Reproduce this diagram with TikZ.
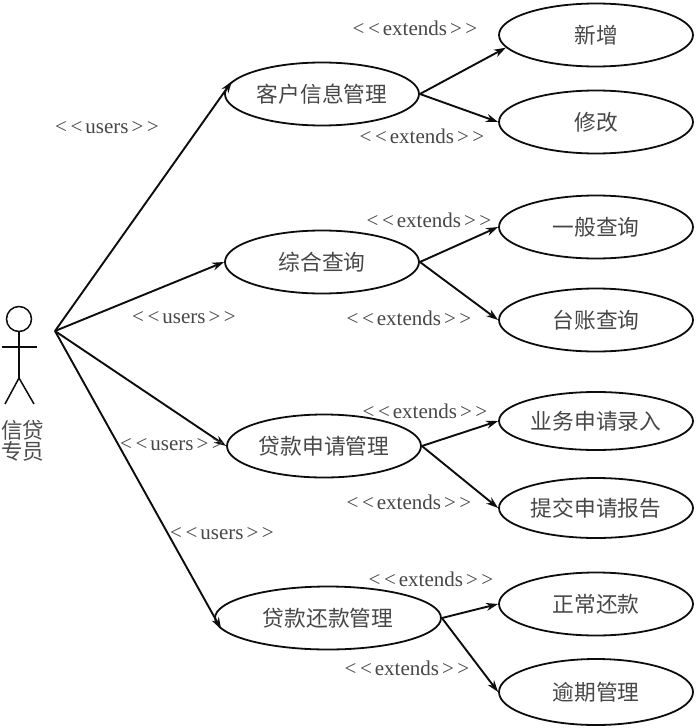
\documentclass[tikz,border=0pt]{standalone}
\usepackage{fontspec}
\setmainfont{Liberation Serif}
\newfontfamily\cjk{Noto Sans CJK SC}[Scale=1]
\usetikzlibrary{shapes.geometric,arrows.meta}
\definecolor{ink}{gray}{0.05}
\definecolor{lab}{gray}{0.28}
\newcommand{\usr}{<\kern3.5pt<\kern3pt users\kern3pt>\kern3.5pt>}
\newcommand{\ext}{<\kern3.5pt<\kern3pt extends\kern3pt>\kern3.5pt>}
\tikzset{
  uc/.style={draw=ink,ellipse,line width=1.8pt,minimum width=194pt,minimum height=63pt,inner sep=0pt,font=\cjk\fontsize{21.7}{24}\selectfont,text=black!72},
  link/.style={draw=ink,line width=1.9pt,-{Stealth[length=12pt,width=8pt]}},
  tag/.style={font=\fontsize{21}{23}\selectfont,text=lab,inner sep=0pt},
  limb/.style={draw=ink,line width=1.5pt}
}
\begin{document}
\begin{tikzpicture}[x=1pt,y=-1pt]
\useasboundingbox[fill=white] (0,0) rectangle (698,728);
% use cases
\node[uc] (kh) at (322,94) {客户信息管理};
\node[uc] (zh) at (322,262) {综合查询};
\node[uc] (sq) at (324,446) {贷款申请管理};
\node[uc,minimum width=226pt] (hk) at (328,618) {贷款还款管理};
\node[uc] (xz) at (596,35) {新增};
\node[uc] (xg) at (596,122) {修改};
\node[uc] (yb) at (596,227) {一般查询};
\node[uc] (tz) at (596,320) {台账查询};
\node[uc,minimum height=58pt] (yw) at (596,421) {业务申请录入};
\node[uc,minimum height=60pt] (tj) at (596,508) {提交申请报告};
\node[uc] (zc) at (596,604) {正常还款};
\node[uc,minimum height=66pt] (yq) at (596,692) {逾期管理};
% actor
\coordinate (hub) at (55,331);
\node[draw=ink,circle,line width=1.5pt,minimum size=25pt,inner sep=0pt] (head) at (19,319) {};
\coordinate (hip) at (19,378);
\coordinate (armL) at (2,347);
\coordinate (armR) at (37,347);
\coordinate (footL) at (5,404);
\coordinate (footR) at (34,404);
\draw[limb] (head.south) -- (hip);
\draw[limb] (armL) -- (armR);
\draw[limb] (footL) -- (hip) -- (footR);
\node[font=\cjk\fontsize{21.5}{23}\selectfont,text=black!70,align=center,inner sep=0pt] (actor) at (23,441) {信贷\\[-2pt]专员};
% connectors
\draw[link] (hub) -- (kh.172);
\draw[link] (hub) -- (zh.west);
\draw[link] (hub) -- (sq.west);
\draw[link] (hub) -- (hk.186);
\draw[link] (kh.east) -- (xz.188);
\draw[link] (kh.east) -- (xg.west);
\draw[link] (zh.east) -- (yb.west);
\draw[link] (zh.east) -- (tz.west);
\draw[link] (sq.east) -- (yw.west);
\draw[link] (sq.east) -- (tj.west);
\draw[link] (hk.east) -- (zc.west);
\draw[link] (hk.east) -- (yq.west);
% labels
\node[tag] (u1) at (107,127.5) {\usr};
\node[tag] (u2) at (184,317.5) {\usr};
\node[tag] (u3) at (172,444.5) {\usr};
\node[tag] (u4) at (222,533.5) {\usr};
\node[tag] (e1) at (415,28) {\ext};
\node[tag] (e2) at (422,136) {\ext};
\node[tag] (e3) at (429,220) {\ext};
\node[tag] (e4) at (409,318) {\ext};
\node[tag] (e5) at (425,411) {\ext};
\node[tag] (e6) at (409,502) {\ext};
\node[tag] (e7) at (431,579) {\ext};
\node[tag] (e8) at (407,668) {\ext};
\end{tikzpicture}
\end{document}
